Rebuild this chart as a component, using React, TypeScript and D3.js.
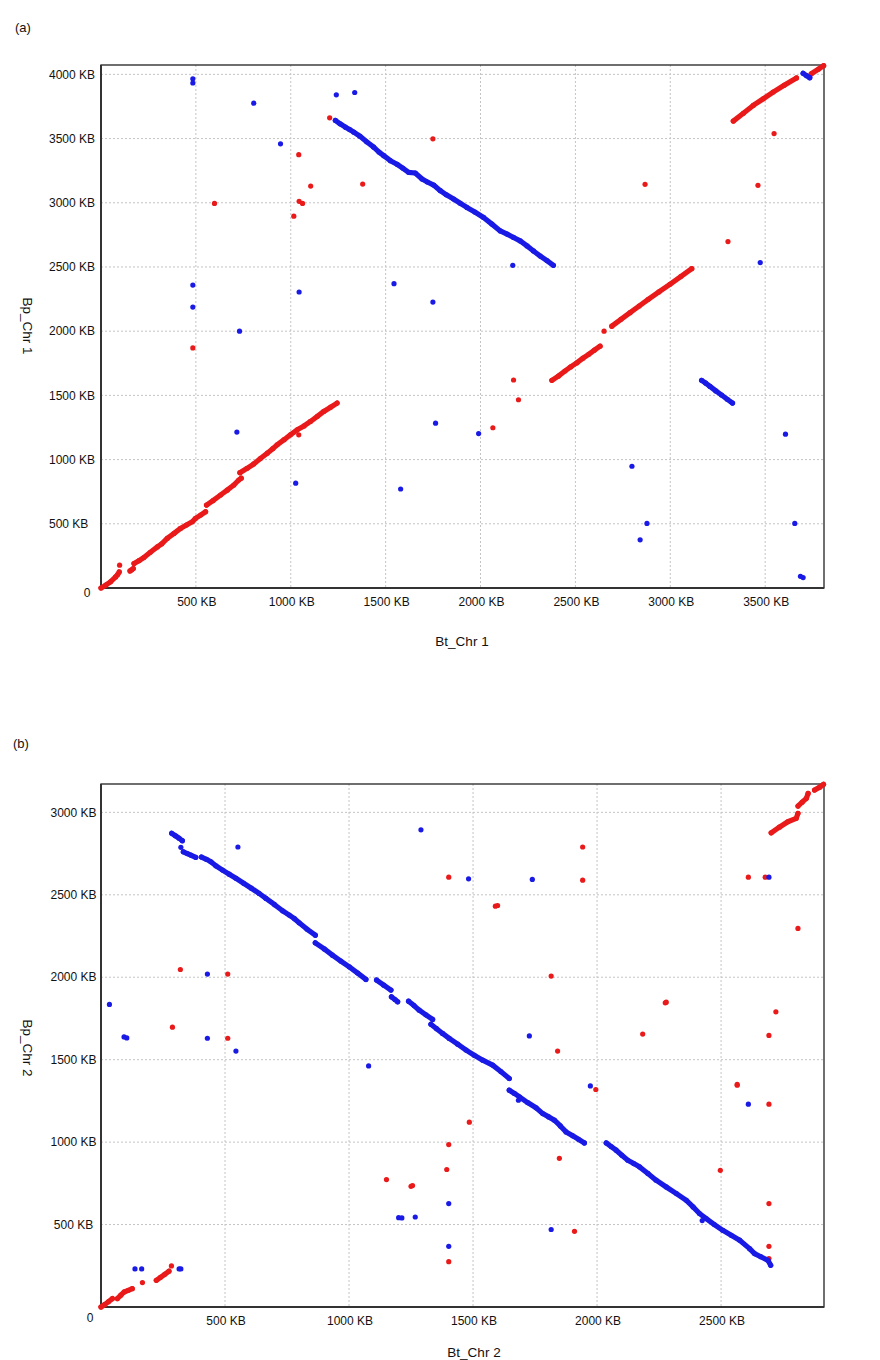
import React from 'react';
import * as d3 from 'd3';

type Pt = [number, number];

const RED = '#ea1a1a';
const BLUE = '#1a1ae6';
const FONT = '"Liberation Sans", Arial, Helvetica, sans-serif';

// ---------- panel (a): Bt_Chr 1 vs Bp_Chr 1 (KB) ----------
const aTicksX = [500, 1000, 1500, 2000, 2500, 3000, 3500];
const aTicksY = [500, 1000, 1500, 2000, 2500, 3000, 3500, 4000];

// syntenic blocks: each block is a list of runs of dense dots
const aFwdBlocks: Pt[][][] = [
  [
    [[0, 0], [25, 22], [50, 48], [77, 86], [88, 105], [96, 125]],
    [[153, 133], [162, 142], [170, 151]],
    [[174, 190], [200, 213], [226, 237], [260, 278], [297, 320], [320, 344], [349, 386], [385, 425], [419, 464], [450, 490], [481, 516], [498, 542], [525, 568], [551, 594]],
    [[556, 646], [590, 680], [630, 724], [665, 762], [700, 802], [726, 841], [739, 855]],
    [[732, 898], [770, 932], [805, 966], [840, 1008], [876, 1050], [905, 1085], [928, 1115], [965, 1155], [998, 1193], [1034, 1232], [1070, 1262], [1104, 1297], [1140, 1337], [1174, 1375], [1210, 1408], [1244, 1440]],
  ],
  [
    [[2376, 1617], [2410, 1650], [2445, 1690], [2475, 1722], [2507, 1753], [2540, 1790], [2570, 1820], [2600, 1852], [2630, 1883]],
  ],
  [
    [[2692, 2039], [2740, 2092], [2788, 2144], [2836, 2196], [2884, 2248], [2940, 2306], [2998, 2365], [3055, 2425], [3113, 2487]],
  ],
  [
    [[3332, 3636], [3385, 3697], [3437, 3758], [3490, 3810], [3542, 3862], [3600, 3915], [3665, 3972]],
    [[3743, 4005], [3780, 4040], [3808, 4068]],
  ],
];

const aRevBlocks: Pt[][][] = [
  [
    [[1235, 3641], [1260, 3615], [1288, 3589], [1310, 3570], [1332, 3550], [1365, 3518], [1400, 3475], [1437, 3433], [1465, 3395], [1490, 3367], [1525, 3328], [1560, 3300], [1590, 3270], [1621, 3237], [1656, 3232], [1692, 3185], [1720, 3162], [1753, 3138], [1788, 3094], [1820, 3062], [1858, 3029], [1893, 2996], [1928, 2964], [1970, 2928], [2016, 2886], [2060, 2834], [2104, 2781], [2140, 2756], [2174, 2730], [2209, 2703], [2245, 2664], [2279, 2625], [2315, 2585], [2350, 2550], [2384, 2513]],
  ],
  [
    [[3165, 1617], [3187, 1595], [3209, 1570], [3240, 1535], [3270, 1503], [3300, 1470], [3328, 1440]],
  ],
  [
    [[3700, 4008], [3718, 3990], [3735, 3974]],
  ],
];

const aFwdDots: Pt[] = [
  [98, 178], [1042, 1193], [1205, 3662], [1749, 3498], [1379, 3146], [1042, 3375], [1105, 3130],
  [598, 2995], [1044, 3011], [1062, 2995], [1016, 2896], [484, 1870], [2174, 1620], [2200, 1466],
  [2065, 1248], [2651, 2000], [2867, 3144], [3462, 3136], [3547, 3539], [3304, 2698],
];

const aRevDots: Pt[] = [
  [484, 3966], [484, 3933], [805, 3776], [1240, 3841], [1337, 3859], [946, 3459], [484, 2359],
  [1044, 2305], [1544, 2370], [1749, 2227], [484, 2188], [730, 2000], [716, 1214], [1026, 816],
  [1579, 771], [1763, 1284], [1990, 1203], [2170, 2513], [2798, 948], [2877, 503], [2841, 375],
  [3607, 1198], [3656, 503], [3686, 91], [3700, 81], [3474, 2534],
];

// ---------- panel (b): Bt_Chr 2 vs Bp_Chr 2 (KB) ----------
const bTicksX = [500, 1000, 1500, 2000, 2500];
const bTicksY = [500, 1000, 1500, 2000, 2500, 3000];

const bFwdBlocks: Pt[][][] = [
  [
    [[0, 0], [15, 15], [30, 32], [46, 51]],
    [[66, 51], [80, 72], [93, 91], [110, 101], [126, 111]],
    [[167, 148]],
  ],
  [
    [[223, 162], [240, 180], [257, 198], [274, 217]],
    [[284, 249]],
  ],
  [
    [[2702, 2876], [2735, 2910], [2769, 2943], [2803, 2964], [2810, 2994]],
    [[2810, 3038], [2827, 3062], [2844, 3085], [2851, 3115]],
    [[2877, 3135], [2898, 3153], [2913, 3170]],
  ],
];

const bRevBlocks: Pt[][][] = [
  [
    [[285, 2873], [300, 2858], [315, 2843], [328, 2828]],
    [[322, 2788]],
    [[332, 2761], [348, 2750], [362, 2741], [382, 2727]],
    [[405, 2729], [425, 2715], [443, 2700], [463, 2676], [490, 2650], [517, 2625], [544, 2600], [575, 2570], [606, 2540], [638, 2508], [665, 2478], [700, 2440], [732, 2403], [759, 2377], [780, 2355], [799, 2330], [830, 2292], [864, 2255]],
    [[864, 2209], [900, 2172], [933, 2134], [967, 2098], [1001, 2063], [1035, 2025], [1068, 1987]],
    [[1111, 1983], [1140, 1952], [1169, 1922]],
    [[1171, 1881], [1185, 1865], [1196, 1851]],
    [[1240, 1855], [1262, 1828], [1283, 1800], [1310, 1772], [1337, 1744]],
    [[1330, 1715], [1353, 1688], [1377, 1659], [1404, 1629], [1438, 1594], [1472, 1558], [1505, 1527], [1539, 1497], [1579, 1467], [1612, 1428], [1646, 1386]],
    [[1646, 1315], [1667, 1295], [1687, 1274], [1720, 1240], [1754, 1208], [1781, 1173], [1805, 1153], [1828, 1133], [1852, 1098], [1875, 1062], [1902, 1038], [1925, 1017], [1949, 995]],
    [[2037, 995], [2057, 973], [2077, 951], [2100, 920], [2124, 890], [2148, 870], [2171, 850], [2205, 810], [2238, 769], [2279, 728], [2320, 688], [2360, 647], [2387, 607], [2413, 567], [2440, 536], [2473, 500], [2507, 465], [2541, 435], [2575, 405], [2615, 354], [2635, 324], [2660, 305], [2689, 283], [2700, 253]],
  ],
];

const bFwdDots: Pt[] = [
  [320, 2047], [511, 2019], [288, 1697], [511, 1630], [1151, 773], [1250, 732], [1256, 737],
  [1402, 2607], [1942, 2790], [1942, 2589], [1590, 2431], [1599, 2435], [2610, 2607], [2678, 2607],
  [2810, 2296], [1815, 2007], [2275, 1845], [2279, 1849], [2184, 1655], [2721, 1790], [2693, 1647],
  [1841, 1552], [1995, 1319], [1485, 1121], [1402, 985], [1394, 834], [1909, 459], [1402, 275],
  [1848, 902], [2497, 829], [2565, 1345], [2565, 1350], [2693, 1230], [2693, 627], [2693, 368],
  [2693, 294],
];

const bRevDots: Pt[] = [
  [137, 231], [164, 231], [315, 231], [322, 231], [552, 2790], [1290, 2894], [429, 2019],
  [34, 1835], [93, 1638], [104, 1632], [429, 1630], [544, 1552], [1079, 1462], [1200, 542],
  [1213, 540], [1267, 546], [1482, 2597], [1739, 2593], [2693, 2607], [1727, 1644], [1973, 1341],
  [1402, 627], [1815, 470], [1402, 368], [2610, 1230], [2424, 524], [1683, 1254],
];

interface PanelProps {
  label: string;
  labelX: number;
  labelY: number;
  top: number;
  bottom: number;
  xMax: number;
  yMax: number;
  xTicks: number[];
  yTicks: number[];
  fwdBlocks: Pt[][][];
  revBlocks: Pt[][][];
  fwdDots: Pt[];
  revDots: Pt[];
  xTitle: string;
  yTitle: string;
  xTitleX: number;
  xTitleY: number;
  yTitleY: number;
  yLabelAnchor: 'start' | 'middle';
  yLabelX: number;
  zeroX: number;
  zeroY: number;
}

const LEFT = 101;
const RIGHT = 824;

const Panel: React.FC<PanelProps> = (p) => {
  const x = d3.scaleLinear().domain([0, p.xMax]).range([LEFT, RIGHT]);
  const y = d3.scaleLinear().domain([0, p.yMax]).range([p.bottom, p.top]);
  const line = d3.line<Pt>().x(d => x(d[0])).y(d => y(d[1]));

  // each run of dense dots is drawn as a thick stroke through its dots
  const drawBlocks = (blocks: Pt[][][], color: string, key: string) =>
    blocks.map((block, bi) => (
      <g key={`${key}${bi}`}>
        {block.filter(run => run.length > 1).map((run, ri) => (
          <path key={ri} d={line(run) || ''} fill="none" stroke={color} strokeWidth={5.2}
            strokeLinecap="round" strokeLinejoin="round" />
        ))}
        {block.flat().map((d, i) => (
          <circle key={i} cx={x(d[0])} cy={y(d[1])} r={2.6} fill={color} />
        ))}
      </g>
    ));

  const drawDots = (dots: Pt[], color: string) =>
    dots.map((d, i) => <circle key={i} cx={x(d[0])} cy={y(d[1])} r={2.6} fill={color} />);

  return (
    <g fontFamily={FONT}>
      <text x={p.labelX} y={p.labelY} fontSize={13} fill="#111">{p.label}</text>

      {/* grid */}
      {p.xTicks.map(t => (
        <line key={`gx${t}`} x1={x(t)} x2={x(t)} y1={p.top} y2={p.bottom}
          stroke="#c4c4c4" strokeWidth={1} strokeDasharray="2,2" />
      ))}
      {p.yTicks.map(t => (
        <line key={`gy${t}`} x1={LEFT} x2={RIGHT} y1={y(t)} y2={y(t)}
          stroke="#c4c4c4" strokeWidth={1} strokeDasharray="2,2" />
      ))}

      {/* frame */}
      <rect x={LEFT} y={p.top} width={RIGHT - LEFT} height={p.bottom - p.top}
        fill="none" stroke="#222" strokeWidth={1.3} />
      <line x1={LEFT} x2={LEFT} y1={p.top} y2={p.bottom} stroke="#333" strokeWidth={2} />
      <line x1={LEFT} x2={RIGHT} y1={p.bottom} y2={p.bottom} stroke="#333" strokeWidth={2} />

      {/* data */}
      {drawBlocks(p.fwdBlocks, RED, 'f')}
      {drawDots(p.fwdDots, RED)}
      {drawBlocks(p.revBlocks, BLUE, 'r')}
      {drawDots(p.revDots, BLUE)}

      {/* tick labels */}
      {p.xTicks.map(t => (
        <text key={`tx${t}`} x={x(t) + 1} y={p.bottom + 14} dy="0.35em" textAnchor="middle"
          fontSize={12} fill="#111">{`${t} KB`}</text>
      ))}
      {p.yTicks.map(t => (
        <text key={`ty${t}`} x={p.yLabelX} y={y(t)} dy="0.35em" textAnchor={p.yLabelAnchor}
          fontSize={12} fill="#111">{`${t} KB`}</text>
      ))}
      <text x={p.zeroX} y={p.zeroY} dy="0.35em" textAnchor="middle" fontSize={12} fill="#111">0</text>

      {/* axis titles */}
      <text x={p.xTitleX} y={p.xTitleY} dy="0.35em" textAnchor="middle" fontSize={13.5} fill="#111">
        {p.xTitle}
      </text>
      <text transform={`translate(27.5,${p.yTitleY}) rotate(90)`} dy="0.35em" textAnchor="middle"
        fontSize={13.5} fill="#111">{p.yTitle}</text>
    </g>
  );
};

const App: React.FC = () => (
  <svg width={880} height={1360} style={{ position: 'absolute', left: 0, top: 0, background: '#fff' }}>
    <rect x={0} y={0} width={880} height={1360} fill="#fff" />
    <Panel
      label="(a)" labelX={15} labelY={32}
      top={65} bottom={588} xMax={3810} yMax={4073}
      xTicks={aTicksX} yTicks={aTicksY}
      fwdBlocks={aFwdBlocks} revBlocks={aRevBlocks} fwdDots={aFwdDots} revDots={aRevDots}
      xTitle="Bt_Chr 1" yTitle="Bp_Chr 1" xTitleX={462} xTitleY={641} yTitleY={326}
      yLabelAnchor="start" yLabelX={49} zeroX={87} zeroY={593}
    />
    <Panel
      label="(b)" labelX={13} labelY={748}
      top={784} bottom={1307} xMax={2915} yMax={3172}
      xTicks={bTicksX} yTicks={bTicksY}
      fwdBlocks={bFwdBlocks} revBlocks={bRevBlocks} fwdDots={bFwdDots} revDots={bRevDots}
      xTitle="Bt_Chr 2" yTitle="Bp_Chr 2" xTitleX={474} xTitleY={1352} yTitleY={1048}
      yLabelAnchor="middle" yLabelX={73.5} zeroX={90} zeroY={1318}
    />
  </svg>
);

export default App;
